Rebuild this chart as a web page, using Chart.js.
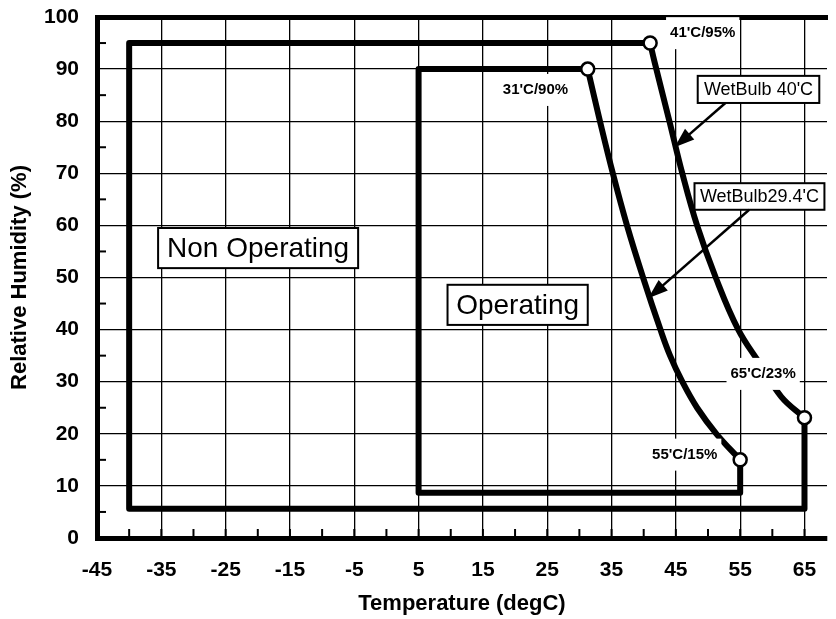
<!DOCTYPE html>
<html>
<head>
<meta charset="utf-8">
<script src="https://cdn.jsdelivr.net/npm/chart.js@4.4.1/dist/chart.umd.min.js"></script>
<style>
  html, body { margin: 0; padding: 0; background: #fff; }
  #wrap { width: 836px; height: 619px; }
</style>
</head>
<body>
<div id="wrap"><canvas id="envChart" width="836" height="619"></canvas></div>
<script>
/* ================================
   Data
   ================================ */
const xTicks = [-45, -35, -25, -15, -5, 5, 15, 25, 35, 45, 55, 65];
const xMinorTicks = [-40, -30, -20, -10, 0, 10, 20, 30, 40, 50, 60];
const yMinorTicks = [5, 15, 25, 35, 45, 55, 65, 75, 85, 95];

// non operating envelope (open polyline, the wet bulb curve closes it)
const nonOpTemp = [41, -40, -40, 65, 65];
const nonOpRH = [95, 95, 5.6, 5.6, 23.1];
const wetBulb40Temp = [41, 41.7, 44, 46, 48.3, 51.2, 54.7, 58.1, 61.4, 65];
const wetBulb40RH = [95, 91.3, 80, 70, 60, 50, 40, 33.4, 27.1, 23.1];

// operating envelope
const opTemp = [31.3, 5, 5, 55, 55];
const opRH = [90, 90, 8.7, 8.7, 15];
const wetBulb294Temp = [31.3, 33.2, 35.2, 37.4, 39.9, 42.6, 44.1, 46.0, 48.3, 51.3, 55];
const wetBulb294RH = [90, 80, 70, 60, 50, 40, 35, 30, 25, 20, 15];

// marked corners
const cornerTemp = [41, 31.3, 55, 65];
const cornerRH = [95, 90, 15, 23.1];

const toPoints = (xs, ys) => xs.map((x, i) => ({ x, y: ys[i] }));

/* ================================
   Labels / arrows plugin
   ================================ */
const notes = {
  id: "notes",
  afterDatasetsDraw(chart) {
    const { ctx, scales } = chart;
    const px = v => scales.x.getPixelForValue(v);
    const py = v => scales.y.getPixelForValue(v);
    ctx.save();

    // minor tick marks inside the axes
    ctx.strokeStyle = "#000";
    ctx.lineWidth = 2;
    const bottom = chart.chartArea.bottom, left = chart.chartArea.left;
    xMinorTicks.concat(xTicks).forEach(v => {
      ctx.beginPath();
      ctx.moveTo(px(v), bottom);
      ctx.lineTo(px(v), bottom - 9);
      ctx.stroke();
    });
    yMinorTicks.forEach(v => {
      ctx.beginPath();
      ctx.moveTo(left, py(v));
      ctx.lineTo(left + 9, py(v));
      ctx.stroke();
    });

    // small corner labels (white background hides lines behind them)
    const small = [
      { t: "41'C/95%", x: 44.1, y: 96.9 },
      { t: "31'C/90%", x: 18.1, y: 86 },
      { t: "65'C/23%", x: 53.5, y: 31.5 },
      { t: "55'C/15%", x: 41.3, y: 16 }
    ];
    ctx.font = "bold 15px 'Liberation Sans', Arial, sans-serif";
    ctx.textBaseline = "middle";
    ctx.textAlign = "left";
    small.forEach(s => {
      const w = ctx.measureText(s.t).width;
      ctx.fillStyle = "#fff";
      ctx.fillRect(px(s.x) - 4, py(s.y) - 16, w + 8, 32);
      ctx.fillStyle = "#000";
      ctx.fillText(s.t, px(s.x), py(s.y));
    });

    // boxed labels
    const boxes = [
      { t: "Non Operating", x0: -35.5, x1: -4.4, y0: 59.5, y1: 51.8, size: 28 },
      { t: "Operating", x0: 9.5, x1: 31.3, y0: 48.6, y1: 40.9, size: 28 },
      { t: "WetBulb 40'C", x0: 48.4, x1: 67.3, y0: 88.7, y1: 83.5, size: 18 },
      { t: "WetBulb29.4'C", x0: 47.9, x1: 68.1, y0: 68.1, y1: 63, size: 18 }
    ];
    boxes.forEach(b => {
      const x0 = px(b.x0), x1 = px(b.x1), y0 = py(b.y0), y1 = py(b.y1);
      ctx.fillStyle = "#fff";
      ctx.fillRect(x0, y0, x1 - x0, y1 - y0);
      ctx.strokeStyle = "#000";
      ctx.lineWidth = 2;
      ctx.strokeRect(x0, y0, x1 - x0, y1 - y0);
      ctx.fillStyle = "#000";
      ctx.font = b.size + "px 'Liberation Sans', Arial, sans-serif";
      ctx.textAlign = "center";
      ctx.fillText(b.t, (x0 + x1) / 2, (y0 + y1) / 2 + 1);
    });

    // arrows from boxes to curves
    const arrows = [
      { x0: 52.7, y0: 83.5, x1: 44.8, y1: 75 },
      { x0: 56.4, y0: 63, x1: 40.7, y1: 46 }
    ];
    arrows.forEach(a => {
      const ax = px(a.x0), ay = py(a.y0), bx = px(a.x1), by = py(a.y1);
      const ang = Math.atan2(by - ay, bx - ax);
      const c = Math.cos(ang), s = Math.sin(ang);
      ctx.strokeStyle = "#000";
      ctx.lineWidth = 2.5;
      ctx.beginPath();
      ctx.moveTo(ax, ay);
      ctx.lineTo(bx - 12 * c, by - 12 * s);
      ctx.stroke();
      ctx.fillStyle = "#000";
      ctx.beginPath();
      ctx.moveTo(bx, by);
      ctx.lineTo(bx - 20 * c + 7 * s, by - 20 * s - 7 * c);
      ctx.lineTo(bx - 20 * c - 7 * s, by - 20 * s + 7 * c);
      ctx.closePath();
      ctx.fill();
    });
    ctx.restore();
  }
};

/* ================================
   Chart
   ================================ */
const lineSet = (data, extra) => Object.assign({
  data,
  showLine: true,
  borderColor: "#000",
  borderWidth: 6,
  pointRadius: 0,
  fill: false,
  tension: 0,
  order: 2
}, extra);

const tickFont = { family: "'Liberation Sans', Arial, sans-serif", size: 21, weight: "bold" };
const titleFont = { family: "'Liberation Sans', Arial, sans-serif", size: 22, weight: "bold" };

new Chart(document.getElementById("envChart"), {
  type: "scatter",
  data: {
    datasets: [
      lineSet(toPoints(nonOpTemp, nonOpRH), { borderJoinStyle: "round" }),
      lineSet(toPoints(wetBulb40Temp, wetBulb40RH), { tension: 0.4 }),
      lineSet(toPoints(opTemp, opRH), { borderJoinStyle: "round" }),
      lineSet(toPoints(wetBulb294Temp, wetBulb294RH), { tension: 0.4 }),
      {
        data: toPoints(cornerTemp, cornerRH),
        showLine: false,
        pointRadius: 6.5,
        pointBackgroundColor: "#fff",
        pointBorderColor: "#000",
        pointBorderWidth: 2.5,
        order: 0
      }
    ]
  },
  options: {
    responsive: false,
    animation: false,
    layout: { padding: { top: 17, right: 0, left: 0, bottom: 0 } },
    plugins: { legend: { display: false }, tooltip: { enabled: false } },
    scales: {
      x: {
        type: "linear",
        min: -45,
        max: 68.5,
        afterBuildTicks: s => { s.ticks = xTicks.map(v => ({ value: v })); },
        afterFit: s => { s.height = 81; s.paddingLeft = 0; s.paddingRight = 0; },
        ticks: { color: "#000", font: tickFont, padding: 20, maxRotation: 0 },
        grid: { color: "#000", lineWidth: 1.3, drawTicks: false },
        border: { color: "#000", width: 5 },
        title: { display: true, text: "Temperature (degC)", color: "#000", font: titleFont, padding: { top: 0, bottom: 2 } }
      },
      xTop: {
        type: "linear",
        position: "top",
        min: -45,
        max: 68.5,
        afterFit: s => { s.height = 0; s.paddingLeft = 0; s.paddingRight = 0; },
        ticks: { display: false },
        grid: { drawOnChartArea: false, drawTicks: false },
        border: { color: "#000", width: 5 }
      },
      y: {
        min: 0,
        max: 100,
        afterFit: s => { s.width = 97; s.paddingTop = 0; s.paddingBottom = 0; },
        ticks: { stepSize: 10, color: "#000", font: tickFont, padding: 18 },
        grid: { color: "#000", lineWidth: 1.3, drawTicks: false },
        border: { color: "#000", width: 5 },
        title: { display: true, text: "Relative Humidity (%)", color: "#000", font: titleFont, padding: { top: 7, bottom: 0 } }
      }
    }
  },
  plugins: [notes]
});
</script>
</body>
</html>
